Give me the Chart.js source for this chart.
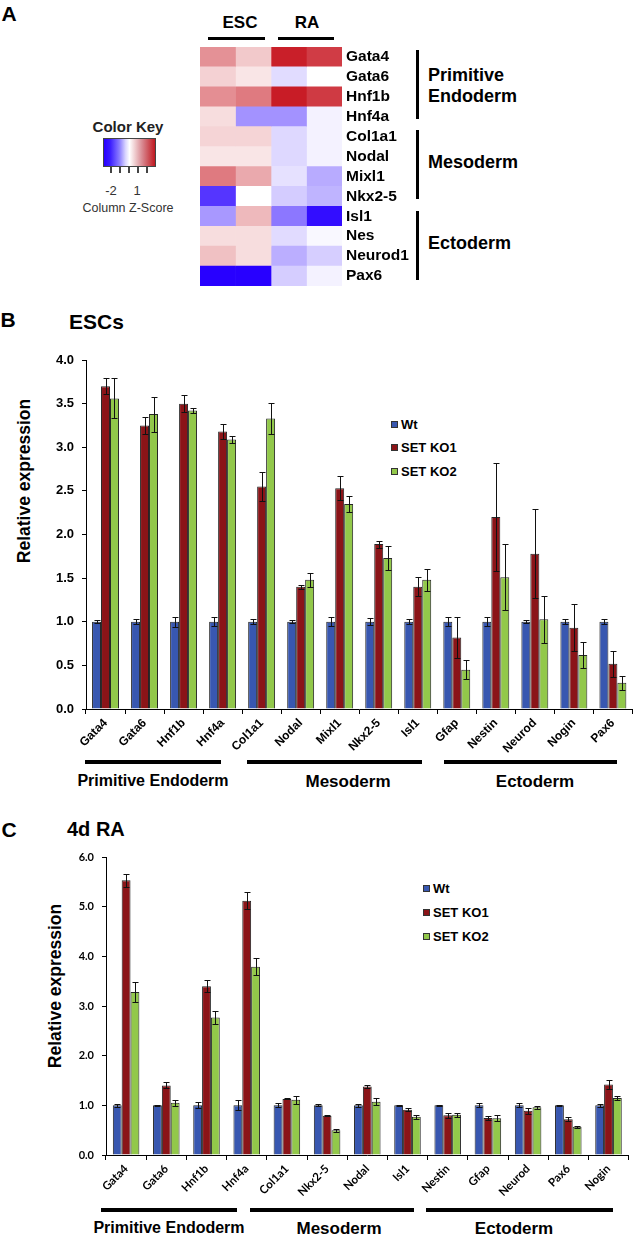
<!DOCTYPE html>
<html>
<head>
<meta charset="utf-8">
<script src="https://cdn.jsdelivr.net/npm/chart.js@4.4.1/dist/chart.umd.min.js"></script>
<style>
  body { margin: 0; background: #fff; font-family: "Liberation Sans", Arial, sans-serif; }
  #page { position: relative; width: 641px; height: 1242px; overflow: hidden; }
  canvas { position: absolute; left: 0; }
  .t { position: absolute; white-space: nowrap; line-height: 1; color: #000; }
  .c { transform: translate(-50%, -50%); }
  .l { transform: translateY(-50%); }
  .b { font-weight: bold; }
  .bar { position: absolute; background: #000; }
  .sq { position: absolute; width: 5px; height: 5px; border: 1px solid #333; }
  .rot { transform: translate(-50%, -50%) rotate(-90deg); }
</style>
</head>
<body>
<div id="page">
  <!-- panel A -->
  <div class="t b c" style="left:9px;top:13px;font-size:21px">A</div>
  <div class="t b c" style="left:240px;top:22px;font-size:17px">ESC</div>
  <div class="t b c" style="left:307px;top:22px;font-size:17px">RA</div>
  <div class="bar" style="left:208px;top:37px;width:57px;height:3px"></div>
  <div class="bar" style="left:278px;top:37px;width:56px;height:3px"></div>

  <div class="bar" style="left:416px;top:50px;width:3px;height:69px"></div>
  <div class="bar" style="left:416px;top:130px;width:3px;height:69px"></div>
  <div class="bar" style="left:416px;top:211px;width:3px;height:69px"></div>
  <div class="t b l" style="left:428px;top:75px;font-size:18px">Primitive</div>
  <div class="t b l" style="left:428px;top:96px;font-size:18px">Endoderm</div>
  <div class="t b l" style="left:428px;top:162px;font-size:18px">Mesoderm</div>
  <div class="t b l" style="left:428px;top:243px;font-size:18px">Ectoderm</div>

  <div class="t b c" style="left:128px;top:126px;font-size:15px;color:#222">Color Key</div>
  <div style="position:absolute;left:103px;top:138px;width:51px;height:27px;border:1px solid #444;
       background:linear-gradient(to right,#2800ff 0%,#3a1cff 12%,#8a7cff 30%,#d8d4ff 42%,#ffffff 50%,#f0d0d2 60%,#d88890 75%,#c01820 100%)"></div>
  <div class="bar" style="left:110px;top:166px;width:1.5px;height:7px;background:#444"></div>
  <div class="bar" style="left:119px;top:166px;width:1.5px;height:7px;background:#444"></div>
  <div class="bar" style="left:128px;top:166px;width:1.5px;height:7px;background:#444"></div>
  <div class="bar" style="left:137px;top:166px;width:1.5px;height:7px;background:#444"></div>
  <div class="bar" style="left:146px;top:166px;width:1.5px;height:7px;background:#444"></div>
  <div class="t c" style="left:111px;top:190px;font-size:13px;color:#333">-2</div>
  <div class="t c" style="left:137px;top:190px;font-size:13px;color:#333">1</div>
  <div class="t c" style="left:128px;top:208px;font-size:12.5px;color:#333">Column Z-Score</div>

  <!-- panel B -->
  <div class="t b c" style="left:8px;top:319px;font-size:21px">B</div>
  <div class="t b l" style="left:69px;top:321px;font-size:21px">ESCs</div>
  <div class="t b rot" style="left:25px;top:481px;font-size:17.5px">Relative expression</div>
  <div class="sq" style="left:391px;top:421px;background:#3857b0"></div>
  <div class="sq" style="left:391px;top:444px;background:#8b1418"></div>
  <div class="sq" style="left:391px;top:468px;background:#92c84a"></div>
  <div class="t b l" style="left:401px;top:424px;font-size:13px">Wt</div>
  <div class="t b l" style="left:401px;top:447px;font-size:13px">SET KO1</div>
  <div class="t b l" style="left:401px;top:471px;font-size:13px">SET KO2</div>
  <div class="bar" style="left:85px;top:760px;width:136px;height:3.5px"></div>
  <div class="bar" style="left:247px;top:760px;width:175px;height:3.5px"></div>
  <div class="bar" style="left:444px;top:760px;width:173px;height:3.5px"></div>
  <div class="t b c" style="left:153px;top:781px;font-size:16px">Primitive Endoderm</div>
  <div class="t b c" style="left:348px;top:781px;font-size:17px">Mesoderm</div>
  <div class="t b c" style="left:535px;top:781px;font-size:17px">Ectoderm</div>

  <!-- panel C -->
  <div class="t b c" style="left:9px;top:829px;font-size:21px">C</div>
  <div class="t b l" style="left:67px;top:829px;font-size:20px">4d RA</div>
  <div class="t b rot" style="left:56px;top:986px;font-size:17.5px">Relative expression</div>
  <div class="sq" style="left:423px;top:885px;background:#3857b0"></div>
  <div class="sq" style="left:423px;top:909px;background:#8b1418"></div>
  <div class="sq" style="left:423px;top:933px;background:#92c84a"></div>
  <div class="t b l" style="left:433px;top:888px;font-size:13px">Wt</div>
  <div class="t b l" style="left:433px;top:912px;font-size:13px">SET KO1</div>
  <div class="t b l" style="left:433px;top:936px;font-size:13px">SET KO2</div>
  <div class="bar" style="left:101px;top:1208px;width:136px;height:3.5px"></div>
  <div class="bar" style="left:250px;top:1208px;width:164px;height:3.5px"></div>
  <div class="bar" style="left:426px;top:1208px;width:187px;height:3.5px"></div>
  <div class="t b c" style="left:169px;top:1228px;font-size:16px">Primitive Endoderm</div>
  <div class="t b c" style="left:339px;top:1228px;font-size:17px">Mesoderm</div>
  <div class="t b c" style="left:514px;top:1228px;font-size:17px">Ectoderm</div>

  <canvas id="heat" width="641" height="300" style="top:0"></canvas>
  <canvas id="esc" width="641" height="420" style="top:340px"></canvas>
  <canvas id="ra" width="641" height="380" style="top:840px"></canvas>
</div>

<script>
// heatmap: column z-scores
const heatGenes = ['Gata4', 'Gata6', 'Hnf1b', 'Hnf4a', 'Col1a1', 'Nodal', 'Mixl1', 'Nkx2-5', 'Isl1', 'Nes', 'Neurod1', 'Pax6'];
const zEsc1 = [1.16, 0.49, 1.20, 0.36, 0.45, 0.28, 1.41, -1.90, -0.97, 0.36, 0.66, -2.40];
const zEsc2 = [0.57, 0.28, 1.41, -1.03, 0.45, 0.28, 0.91, 0.00, 0.74, 0.36, 0.36, -2.40];
const zRa1 = [2.37, -0.33, 2.40, -1.03, -0.37, -0.37, -0.28, -0.48, -1.28, -0.34, -0.76, -0.47];
const zRa2 = [2.06, 0.00, 2.08, -0.12, -0.12, -0.12, -0.79, -0.71, -2.28, -0.07, -0.46, -0.12];
const zMax = 2.4;

// panel B: ESCs
const escGenes = ['Gata4', 'Gata6', 'Hnf1b', 'Hnf4a', 'Col1a1', 'Nodal', 'Mixl1', 'Nkx2-5', 'Isl1', 'Gfap', 'Nestin', 'Neurod', 'Nogin', 'Pax6'];
const escWt = [1, 1, 1, 1, 1, 1, 1, 1, 1, 1, 1, 1, 1, 1];
const escWtErr = [0.02, 0.03, 0.06, 0.05, 0.03, 0.02, 0.05, 0.04, 0.03, 0.05, 0.05, 0.02, 0.03, 0.03];
const escKo1 = [3.70, 3.25, 3.50, 3.18, 2.55, 1.40, 2.53, 1.89, 1.40, 0.82, 2.20, 1.78, 0.93, 0.52];
const escKo1Err = [0.09, 0.10, 0.10, 0.09, 0.17, 0.02, 0.14, 0.04, 0.11, 0.24, 0.62, 0.51, 0.27, 0.15];
const escKo2 = [3.56, 3.38, 3.42, 3.09, 3.33, 1.48, 2.35, 1.73, 1.48, 0.45, 1.51, 1.03, 0.62, 0.30];
const escKo2Err = [0.23, 0.20, 0.03, 0.04, 0.18, 0.08, 0.09, 0.14, 0.13, 0.11, 0.38, 0.27, 0.15, 0.08];

// panel C: 4d RA
const raGenes = ['Gata4', 'Gata6', 'Hnf1b', 'Hnf4a', 'Col1a1', 'Nkx2-5', 'Nodal', 'Isl1', 'Nestin', 'Gfap', 'Neurod', 'Pax6', 'Nogin'];
const raWt = [1, 1, 1, 1, 1, 1, 1, 1, 1, 1, 1, 1, 1];
const raWtErr = [0.03, 0.01, 0.06, 0.10, 0.04, 0.02, 0.03, 0.01, 0.01, 0.04, 0.04, 0.01, 0.03];
const raKo1 = [5.53, 1.40, 3.40, 5.12, 1.13, 0.79, 1.38, 0.91, 0.80, 0.745, 0.89, 0.72, 1.42];
const raKo1Err = [0.13, 0.06, 0.12, 0.17, 0.01, 0.01, 0.03, 0.03, 0.05, 0.05, 0.06, 0.04, 0.10];
const raKo2 = [3.28, 1.05, 2.77, 3.79, 1.11, 0.50, 1.07, 0.77, 0.81, 0.74, 0.96, 0.57, 1.15];
const raKo2Err = [0.20, 0.06, 0.13, 0.17, 0.08, 0.03, 0.07, 0.04, 0.04, 0.06, 0.03, 0.02, 0.04];

const WT = '#3857b0', KO1 = '#8b1418', KO2 = '#92c84a';
const SANS = '"Liberation Sans", Arial, sans-serif';

function zColor(z) {
  const t = Math.min(Math.abs(z) / zMax, 1);
  const end = z < 0 ? [40, 0, 255] : [200, 28, 38];
  const c = end.map((e) => Math.round(255 + (e - 255) * t));
  return `rgb(${c[0]},${c[1]},${c[2]})`;
}

new Chart(document.getElementById('heat'), {
  type: 'bar',
  data: {
    labels: heatGenes,
    datasets: [zEsc1, zEsc2, zRa1, zRa2].map((col) => ({
      data: col.map(() => 1),
      backgroundColor: col.map(zColor),
      borderWidth: 0,
      barPercentage: 1,
      categoryPercentage: 1
    }))
  },
  options: {
    indexAxis: 'y',
    responsive: false,
    animation: false,
    devicePixelRatio: 1,
    layout: { padding: { left: 200, top: 47, right: 0, bottom: 14 } },
    plugins: { legend: { display: false }, tooltip: { enabled: false } },
    scales: {
      x: { display: false, stacked: true, min: 0, max: 4 },
      y: {
        stacked: true,
        position: 'right',
        grid: { display: false, drawTicks: false },
        border: { display: false },
        ticks: { color: '#000', padding: 4, autoSkip: false, font: { family: SANS, size: 15.5, weight: 'bold' } },
        afterFit(s) { s.width = 299; }
      }
    }
  }
});

const errPlugin = {
  id: 'errbars',
  afterDatasetsDraw(chart) {
    const ctx = chart.ctx;
    const y = chart.scales.y;
    ctx.save();
    ctx.strokeStyle = '#111';
    ctx.lineWidth = 1;
    chart.data.datasets.forEach((ds, i) => {
      chart.getDatasetMeta(i).data.forEach((bar, j) => {
        const v = ds.data[j], e = ds.err[j];
        const x = Math.round(bar.x) + 0.5;
        const top = Math.round(y.getPixelForValue(v + e)) + 0.5;
        const bot = Math.round(y.getPixelForValue(v - e)) + 0.5;
        ctx.beginPath();
        ctx.moveTo(x, top); ctx.lineTo(x, bot);
        ctx.moveTo(x - 3, top); ctx.lineTo(x + 3, top);
        ctx.moveTo(x - 3, bot); ctx.lineTo(x + 3, bot);
        ctx.stroke();
      });
    });
    ctx.restore();
  }
};

function barChart(id, labels, series, cfg) {
  return new Chart(document.getElementById(id), {
    type: 'bar',
    data: {
      labels,
      datasets: series.map(([label, data, err, color]) => ({
        label, data, err,
        backgroundColor: color,
        borderColor: '#262626',
        borderWidth: 1,
        barPercentage: 1,
        categoryPercentage: cfg.catPct
      }))
    },
    options: {
      responsive: false,
      animation: false,
      devicePixelRatio: 1,
      layout: { padding: cfg.pad },
      plugins: { legend: { display: false }, tooltip: { enabled: false } },
      scales: {
        x: {
          grid: { offset: true, drawOnChartArea: false, tickLength: 5, color: '#000' },
          border: { color: '#000' },
          ticks: { color: '#000', font: cfg.xFont, minRotation: 45, maxRotation: 45, padding: 2, autoSkip: false },
          afterFit(s) { s.height = cfg.xh; }
        },
        y: {
          min: 0, max: cfg.max,
          grid: { drawOnChartArea: false, tickLength: 4, color: '#000' },
          border: { color: '#000' },
          ticks: { stepSize: cfg.step, color: '#000', font: cfg.yFont, padding: 8, callback: (v) => v.toFixed(1) },
          afterFit(s) { s.width = cfg.yw; }
        }
      }
    },
    plugins: [errPlugin]
  });
}

barChart('esc', escGenes, [
  ['Wt', escWt, escWtErr, WT],
  ['SET KO1', escKo1, escKo1Err, KO1],
  ['SET KO2', escKo2, escKo2Err, KO2]
], {
  catPct: 0.69, max: 4, step: 0.5, xh: 51, yw: 86,
  pad: { left: 0, top: 20, right: 8.6, bottom: 0 },
  xFont: { family: SANS, size: 12, weight: 'bold' },
  yFont: { family: SANS, size: 13, weight: 'bold' }
});

barChart('ra', raGenes, [
  ['Wt', raWt, raWtErr, WT],
  ['SET KO1', raKo1, raKo1Err, KO1],
  ['SET KO2', raKo2, raKo2Err, KO2]
], {
  catPct: 0.66, max: 6, step: 1, xh: 65, yw: 106,
  pad: { left: 0, top: 17, right: 12.4, bottom: 0 },
  xFont: { family: 'Lato, sans-serif', size: 11.5, weight: 'bold' },
  yFont: { family: 'Lato, sans-serif', size: 11, weight: 'bold' }
});
</script>
</body>
</html>
